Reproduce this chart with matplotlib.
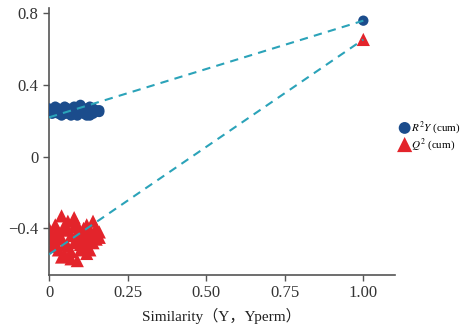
import numpy as np
import matplotlib
matplotlib.use("Agg")
import matplotlib.pyplot as plt

plt.rcParams['font.family'] = ['Liberation Serif', 'Noto Sans CJK SC', 'DejaVu Sans']
plt.rcParams['mathtext.fontset'] = 'stix'

# permutation results (similarity, R2Y(cum)) and (similarity, Q2(cum))
perm_sim = [0.00, 0.01, 0.02, 0.02, 0.03, 0.03, 0.04, 0.04, 0.05, 0.05,
            0.06, 0.06, 0.07, 0.07, 0.08, 0.08, 0.09, 0.09, 0.10, 0.10,
            0.11, 0.11, 0.12, 0.12, 0.13, 0.13, 0.14, 0.14, 0.15, 0.15,
            0.01, 0.03, 0.05, 0.07, 0.09, 0.11, 0.13, 0.04, 0.08, 0.12,
            0.02, 0.06, 0.10, 0.14, 0.16, 0.00, 0.05, 0.09, 0.12, 0.16]
perm_r2 = [0.27, 0.26, 0.25, 0.28, 0.24, 0.27, 0.26, 0.23, 0.28, 0.25,
           0.24, 0.27, 0.26, 0.23, 0.28, 0.25, 0.24, 0.27, 0.29, 0.25,
           0.24, 0.27, 0.26, 0.23, 0.28, 0.25, 0.24, 0.27, 0.26, 0.25,
           0.24, 0.26, 0.27, 0.24, 0.26, 0.25, 0.23, 0.25, 0.24, 0.26,
           0.25, 0.25, 0.26, 0.25, 0.26, 0.25, 0.24, 0.23, 0.27, 0.25]
perm_q2 = [-0.40, -0.44, -0.48, -0.38, -0.52, -0.42, -0.33, -0.46, -0.55, -0.40,
           -0.36, -0.50, -0.44, -0.57, -0.34, -0.48, -0.42, -0.58, -0.52, -0.45,
           -0.40, -0.50, -0.46, -0.38, -0.44, -0.52, -0.36, -0.48, -0.40, -0.46,
           -0.50, -0.45, -0.38, -0.53, -0.47, -0.43, -0.41, -0.56, -0.39, -0.49,
           -0.43, -0.41, -0.49, -0.43, -0.42, -0.46, -0.49, -0.38, -0.54, -0.45]

# original model
orig_sim = 1.0
orig_r2 = 0.76
orig_q2 = 0.655

# intercepts of the fitted lines
r2_intercept = 0.22
q2_intercept = -0.545

blue = '#1b4c8c'
red = '#e3242b'
teal = '#2ba3b9'
grey = '#555555'

fig = plt.figure(figsize=(4.73, 3.25), dpi=100)
ax = fig.add_axes([0.1036, 0.154, 0.731, 0.821])

ax.scatter(perm_sim + [orig_sim], perm_q2 + [orig_q2], marker='^', s=90, color=red,
           edgecolors='none', label='$Q^2$ (cum)', zorder=2)
ax.scatter(perm_sim + [orig_sim], perm_r2 + [orig_r2], marker='o', s=55, color=blue,
           edgecolors='none', label='$R^2Y$ (cum)', zorder=3)
ax.plot([0, orig_sim], [r2_intercept, orig_r2], color=teal, lw=1.5, dashes=(4, 3), zorder=4)
ax.plot([0, orig_sim], [q2_intercept, orig_q2], color=teal, lw=1.5, dashes=(4, 3), zorder=4)

ax.set_xlim(0, 1.1)
ax.set_ylim(-0.66, 0.83)
ax.set_xticks([0, 0.25, 0.5, 0.75, 1.0])
ax.set_xticklabels(['0', '0.25', '0.50', '0.75', '1.00'])
ax.set_yticks([-0.4, 0, 0.4, 0.8])
ax.set_yticklabels(['\u22120.4', '0', '0.4', '0.8'])

for s in ['top', 'right']:
    ax.spines[s].set_visible(False)
for s in ['left', 'bottom']:
    ax.spines[s].set_color(grey)
    ax.spines[s].set_linewidth(1.2)
ax.tick_params(colors=grey, labelcolor='#333333', labelsize=12, length=4, width=1)

ax.set_xlabel('Similarity（Y，Yperm）', fontsize=11, color='#222222', labelpad=5)

handles, labels = ax.get_legend_handles_labels()
ax.legend(handles[::-1], labels[::-1], loc='center left', bbox_to_anchor=(0.99, 0.52),
          frameon=False, fontsize=8, handletextpad=0.1, labelspacing=0.0,
          handlelength=1.0, markerscale=1.15, borderpad=0.2)

fig.savefig('out.png', dpi=100)
